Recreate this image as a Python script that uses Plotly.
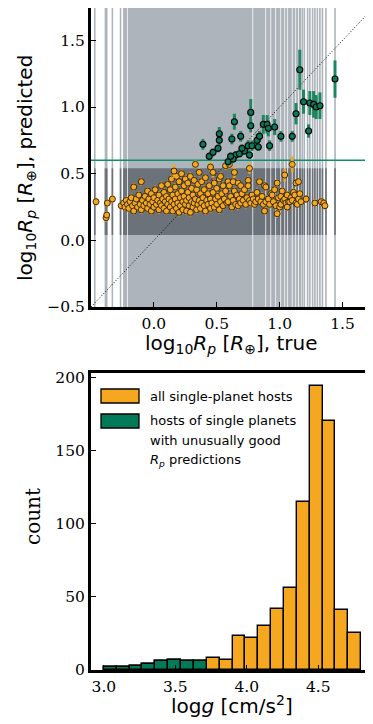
import plotly.graph_objects as go

# ---------------- data: top panel ----------------
# background "vertical bands" of predictions (true log10 Rp positions)
dense_band_x = [-0.245, 1.17]          # region covered densely by gray lines
band_gaps_x = [-0.21, 0.786, 0.889, 0.929, 0.968, 1.008, 1.04, 1.063, 1.10, 1.127, 1.15]
sparse_lines_x = [-0.47, -0.385, -0.375, -0.33, -0.265, 1.18, 1.196, 1.222, 1.24, 1.262, 1.28, 1.30, 1.32, 1.34, 1.368, 1.44]
dark_band_y = [0.04, 0.54]

good_threshold = 0.6
one_to_one = [-0.5, 1.75]

orange_x = [
    -0.46, -0.37, -0.38, -0.375, -0.33,
    -0.26, -0.24, -0.23, -0.22, -0.21, -0.20, -0.19, -0.18, -0.17, -0.16, -0.16, -0.15, -0.14, -0.13, -0.12, -0.11, -0.10, -0.10, -0.09, -0.08,
    -0.07, -0.06, -0.05, -0.05, -0.04, -0.03, -0.02, -0.02, -0.01, 0.00, 0.00, 0.01, 0.02, 0.03, 0.04, 0.04, 0.05, 0.06, 0.06, 0.07,
    0.08, 0.08, 0.09, 0.10, 0.10, 0.11, 0.11, 0.12, 0.13, 0.13, 0.14, 0.14, 0.15, 0.15,
    0.16, 0.17, 0.17, 0.18, 0.18, 0.19, 0.19, 0.20, 0.20, 0.21, 0.21, 0.22, 0.22, 0.23, 0.23, 0.24, 0.24, 0.25, 0.25,
    0.26, 0.26, 0.27, 0.27, 0.28, 0.28, 0.29, 0.29, 0.30, 0.30, 0.31, 0.31, 0.32, 0.32, 0.33, 0.34, 0.34, 0.35, 0.35,
    0.36, 0.36, 0.37, 0.37, 0.38, 0.38, 0.39, 0.40, 0.40, 0.41, 0.41, 0.42, 0.43, 0.43, 0.44, 0.45, 0.45,
    0.46, 0.47, 0.48, 0.48, 0.49, 0.50, 0.50, 0.51, 0.52, 0.52, 0.53, 0.53, 0.54, 0.55, 0.55,
    0.56, 0.57, 0.58, 0.59, 0.59, 0.60, 0.61, 0.62, 0.63, 0.63, 0.64, 0.65, 0.66, 0.67, 0.67, 0.68, 0.69, 0.69, 0.70,
    0.71, 0.72, 0.73, 0.74, 0.75, 0.75, 0.76, 0.77, 0.78, 0.79, 0.80, 0.81, 0.82, 0.83, 0.84, 0.85, 0.86, 0.87, 0.88, 0.88, 0.89, 0.89,
    0.91, 0.92, 0.93, 0.94, 0.95, 0.96, 0.97, 0.98, 0.98, 0.99, 1.00, 1.01, 1.01, 1.02, 1.03, 1.04, 1.05, 1.06, 1.06, 1.07,
    1.08, 1.09, 1.10, 1.11, 1.12, 1.13, 1.13, 1.14, 1.15, 1.15, 1.16, 1.17, 1.21, 1.28, 1.33, 1.35, 1.36,
]
orange_y = [
    0.29, 0.28, 0.17, 0.19, 0.31,
    0.26, 0.28, 0.25, 0.30, 0.27, 0.24, 0.29, 0.32, 0.26, 0.40, 0.22, 0.28, 0.31, 0.25, 0.34, 0.27, 0.44, 0.23, 0.30, 0.26,
    0.33, 0.28, 0.24, 0.37, 0.31, 0.27, 0.22, 0.35, 0.29, 0.25, 0.32, 0.38, 0.27, 0.30, 0.23, 0.34, 0.28, 0.41, 0.26, 0.31,
    0.24, 0.36, 0.29, 0.33, 0.22, 0.27, 0.42, 0.31, 0.25, 0.38, 0.29, 0.46, 0.34, 0.22,
    0.27, 0.31, 0.40, 0.24, 0.48, 0.35, 0.28, 0.21, 0.44, 0.32, 0.26, 0.50, 0.37, 0.29, 0.23, 0.41, 0.33, 0.27, 0.46,
    0.30, 0.22, 0.36, 0.43, 0.26, 0.32, 0.48, 0.21, 0.29, 0.39, 0.34, 0.25, 0.45, 0.28, 0.31, 0.23, 0.38, 0.27, 0.42,
    0.51, 0.30, 0.35, 0.24, 0.28, 0.44, 0.32, 0.26, 0.38, 0.47, 0.22, 0.30, 0.35, 0.27, 0.41, 0.31, 0.24,
    0.28, 0.36, 0.25, 0.43, 0.31, 0.27, 0.39, 0.33, 0.23, 0.46, 0.48, 0.29, 0.35, 0.26, 0.41,
    0.31, 0.37, 0.28, 0.29, 0.44, 0.41, 0.33, 0.25, 0.44, 0.30, 0.37, 0.27, 0.34, 0.43, 0.26, 0.31, 0.28, 0.41, 0.35,
    0.30, 0.38, 0.27, 0.32, 0.45, 0.41, 0.30, 0.28, 0.34, 0.31, 0.27, 0.29, 0.36, 0.31, 0.44, 0.29, 0.33, 0.27, 0.41, 0.22, 0.29, 0.40,
    0.31, 0.27, 0.35, 0.34, 0.29, 0.38, 0.26, 0.43, 0.20, 0.32, 0.25, 0.33, 0.27, 0.37, 0.30, 0.31, 0.28, 0.25, 0.34, 0.29,
    0.29, 0.32, 0.30, 0.36, 0.34, 0.43, 0.28, 0.27, 0.44, 0.31, 0.35, 0.29, 0.31, 0.28, 0.29, 0.28, 0.26,
]
orange_err = 0.03

# orange points with wider error bars
orange_wide_x = [0.16, 0.33, 0.45, 0.47, 0.57, 0.60, 0.64, 0.76, 1.04, 1.10]
orange_wide_y = [0.52, 0.57, 0.55, 0.51, 0.56, 0.57, 0.51, 0.54, 0.49, 0.57]
orange_wide_err = [0.05, 0.03, 0.04, 0.04, 0.03, 0.03, 0.04, 0.04, 0.05, 0.06]

green_x = [0.39, 0.44, 0.47, 0.52, 0.52, 0.51, 0.64, 0.62, 0.65, 0.59, 0.63, 0.68, 0.72, 0.69, 0.75, 0.77, 0.77, 0.76, 0.78, 0.82,
           0.84, 0.83, 0.87, 0.90, 0.91, 0.92, 0.96, 1.01, 1.10, 1.13, 1.16, 1.19, 1.23, 1.24, 1.27, 1.29, 1.32, 1.44, 0.61, 0.70]
green_y = [0.72, 0.63, 0.66, 0.80, 0.75, 0.69, 0.89, 0.76, 0.64, 0.59, 0.61, 0.65, 0.67, 0.78, 0.71, 0.96, 0.86, 0.64, 0.71, 0.75,
           0.78, 0.70, 0.87, 0.87, 0.84, 0.71, 0.85, 0.78, 0.78, 0.95, 1.28, 1.04, 0.82, 1.03, 1.02, 1.00, 1.01, 1.21, 0.63, 0.69]
green_err = [0.04, 0.03, 0.03, 0.05, 0.04, 0.03, 0.06, 0.04, 0.03, 0.03, 0.03, 0.03, 0.03, 0.04, 0.04, 0.10, 0.05, 0.03, 0.04, 0.05,
             0.04, 0.03, 0.07, 0.07, 0.06, 0.04, 0.06, 0.04, 0.04, 0.08, 0.15, 0.09, 0.05, 0.09, 0.10, 0.09, 0.10, 0.14, 0.03, 0.03]

# ---------------- data: bottom panel ----------------
logg_bin_left = [3.00, 3.09, 3.18, 3.27, 3.36, 3.45, 3.54, 3.63, 3.72, 3.81,
                 3.90, 3.99, 4.08, 4.17, 4.26, 4.35, 4.44, 4.53, 4.62, 4.71]
logg_bin_width = 0.09
count_all = [2, 2, 3, 4, 6, 7, 6, 6, 8, 7, 23, 22, 30, 42, 56, 115, 194, 170, 41, 25]
count_good = [2, 2, 3, 4, 6, 7, 6, 6, 0, 0, 0, 0, 0, 0, 0, 0, 0, 0, 0, 0]

top_xticks = [0.0, 0.5, 1.0, 1.5]
top_yticks = [-0.5, 0.0, 0.5, 1.0, 1.5]
bot_xticks = [3.0, 3.5, 4.0, 4.5]
bot_yticks = [0, 50, 100, 150, 200]

# ---------------- styling ----------------
ORANGE = "#F5A81F"
GREEN = "#007A58"
GREEN_ERR = "#1F8560"
LIGHT_GRAY = "rgb(174,180,187)"
DARK_GRAY = "rgb(108,114,122)"
PAGE_W, PAGE_H = 373, 724
OFF_X, OFF_Y = 0, 8          # where the figure lands in the browser window
W, H = PAGE_W - OFF_X, PAGE_H - OFF_Y


def px_x(p):
    """window pixel (from the left) -> paper fraction"""
    return min(1.0, max(0.0, (p - OFF_X) / W))


def px_y(p):
    """window pixel (from the top) -> paper fraction"""
    return min(1.0, max(0.0, 1 - (p - OFF_Y) / H))


fig = go.Figure()

# diagonal 1:1
fig.add_trace(go.Scatter(x=one_to_one, y=one_to_one, mode="lines",
                         line=dict(color="black", width=1, dash="1px,2px"),
                         xaxis="x", yaxis="y", showlegend=False, hoverinfo="skip"))

# orange points
fig.add_trace(go.Scatter(
    x=orange_x, y=orange_y, mode="markers",
    error_y=dict(type="constant", value=orange_err, color=ORANGE, thickness=2, width=0),
    marker=dict(color=ORANGE, size=6, line=dict(color="#2a1f0a", width=0.9)),
    xaxis="x", yaxis="y", showlegend=False))
fig.add_trace(go.Scatter(
    x=orange_wide_x, y=orange_wide_y, mode="markers",
    error_y=dict(type="data", array=orange_wide_err, color=ORANGE, thickness=2.5, width=0),
    marker=dict(color=ORANGE, size=6, line=dict(color="#2a1f0a", width=0.9)),
    xaxis="x", yaxis="y", showlegend=False))
# green points
fig.add_trace(go.Scatter(
    x=green_x, y=green_y, mode="markers",
    error_y=dict(type="data", array=green_err, color=GREEN_ERR, thickness=3, width=0),
    marker=dict(color="#0B7A5C", size=6, line=dict(color="black", width=1.1)),
    xaxis="x", yaxis="y", showlegend=False))

# histogram bars
bin_centers = [b + logg_bin_width / 2 for b in logg_bin_left]
fig.add_trace(go.Bar(x=bin_centers, y=count_all, width=logg_bin_width,
                     marker=dict(color=ORANGE, line=dict(color="black", width=1.4)),
                     xaxis="x2", yaxis="y2", showlegend=False))
good_idx = [i for i, c in enumerate(count_good) if c > 0]
fig.add_trace(go.Bar(x=[bin_centers[i] for i in good_idx], y=[count_good[i] for i in good_idx],
                     width=logg_bin_width,
                     marker=dict(color=GREEN, line=dict(color="black", width=1.4)),
                     xaxis="x2", yaxis="y2", showlegend=False))

shapes = []
xmin, xmax = -0.5, 1.75
ymin, ymax = -0.5, 1.75
# dense gray region
shapes.append(dict(type="rect", xref="x", yref="y", x0=dense_band_x[0], x1=dense_band_x[1], y0=ymin, y1=ymax,
                   fillcolor=LIGHT_GRAY, line=dict(width=0), layer="below"))
shapes.append(dict(type="rect", xref="x", yref="y", x0=dense_band_x[0], x1=dense_band_x[1],
                   y0=dark_band_y[0], y1=dark_band_y[1],
                   fillcolor=DARK_GRAY, line=dict(width=0), layer="below"))
for gx in sparse_lines_x:
    shapes.append(dict(type="line", xref="x", yref="y", x0=gx, x1=gx, y0=ymin, y1=ymax,
                       line=dict(color=LIGHT_GRAY, width=1.6), layer="below"))
    shapes.append(dict(type="line", xref="x", yref="y", x0=gx, x1=gx, y0=dark_band_y[0], y1=dark_band_y[1],
                       line=dict(color=DARK_GRAY, width=1.6), layer="below"))
for gx in band_gaps_x:
    shapes.append(dict(type="line", xref="x", yref="y", x0=gx, x1=gx, y0=ymin, y1=ymax,
                       line=dict(color="rgba(255,255,255,0.75)", width=1), layer="below"))
# threshold line
shapes.append(dict(type="line", xref="x", yref="y", x0=xmin, x1=xmax, y0=good_threshold, y1=good_threshold,
                   line=dict(color="#0F8F68", width=1.5), layer="below"))

# legend patches (bottom panel)
shapes.append(dict(type="rect", xref="paper", yref="paper", x0=px_x(93), x1=px_x(131), y0=px_y(403), y1=px_y(389),
                   fillcolor=ORANGE, line=dict(color="black", width=1.3)))
shapes.append(dict(type="rect", xref="paper", yref="paper", x0=px_x(93), x1=px_x(131), y0=px_y(428), y1=px_y(414),
                   fillcolor=GREEN, line=dict(color="black", width=1.3)))

LEG_FONT = dict(family="DejaVu Sans", size=13, color="black")
TITLE_FONT = dict(family="DejaVu Sans", size=20, color="black")
annotations = [
    dict(text="all single-planet hosts", x=px_x(140), y=px_y(396)),
    dict(text="hosts of single planets", x=px_x(140), y=px_y(420)),
    dict(text="with unusually good", x=px_x(140), y=px_y(440)),
    dict(text="<i>R<sub>p</sub></i> predictions", x=px_x(140), y=px_y(461)),
]
annotations = [dict(a, xref="paper", yref="paper", xanchor="left", yanchor="middle", showarrow=False, font=LEG_FONT)
               for a in annotations]
annotations += [
    dict(text="log<sub>10</sub><i>R<sub>p</sub></i> [<i>R</i><sub>⊕</sub>], true", x=px_x(224), y=px_y(344),
         xref="paper", yref="paper", showarrow=False, font=TITLE_FONT, xanchor="center", yanchor="middle"),
    dict(text="log<sub>10</sub><i>R<sub>p</sub></i> [<i>R</i><sub>⊕</sub>], predicted", x=px_x(18), y=px_y(168),
         xref="paper", yref="paper", showarrow=False, font=TITLE_FONT, textangle=-90, xanchor="center", yanchor="middle"),
    dict(text="log<i>g</i> [cm/s<sup>2</sup>]", x=px_x(224), y=px_y(705),
         xref="paper", yref="paper", showarrow=False, font=TITLE_FONT, xanchor="center", yanchor="middle"),
    dict(text="count", x=px_x(25), y=px_y(517),
         xref="paper", yref="paper", showarrow=False, font=dict(family="DejaVu Serif", size=20, color="black"),
         textangle=-90, xanchor="center", yanchor="middle"),
]

TICK_FONT = dict(family="DejaVu Serif", size=15.5, color="black")
axis_common = dict(showline=True, linecolor="black", linewidth=3, mirror=True,
                   ticks="inside", ticklen=5, tickwidth=1, tickcolor="black", automargin=False,
                   showgrid=False, zeroline=False, tickfont=TICK_FONT, fixedrange=True)

xd = [px_x(83), px_x(366)]
fig.update_layout(
    template="none",
    width=W, height=H,
    margin=dict(l=0, r=0, t=0, b=0, autoexpand=False),
    paper_bgcolor="white", plot_bgcolor="white",
    barmode="overlay", bargap=0,
    xaxis=dict(domain=xd, anchor="y", range=[xmin, xmax], tickvals=top_xticks,
               ticktext=[f"{v:.1f}" for v in top_xticks], **axis_common),
    yaxis=dict(domain=[px_y(307), px_y(8)], anchor="x", range=[ymin, ymax - 0.007], tickvals=top_yticks,
               ticktext=[f"{v:.1f}".replace("-", "\u2212") for v in top_yticks], **axis_common),
    xaxis2=dict(domain=xd, anchor="y2", range=[2.91, 4.89], tickvals=bot_xticks,
                ticktext=[f"{v:.1f}" for v in bot_xticks], **axis_common),
    yaxis2=dict(domain=[px_y(670), px_y(373)], anchor="x2", range=[0, 203], tickvals=bot_yticks,
                ticktext=[str(v) for v in bot_yticks], **axis_common),
    shapes=shapes, annotations=annotations,
)

fig.write_html("out.html")
